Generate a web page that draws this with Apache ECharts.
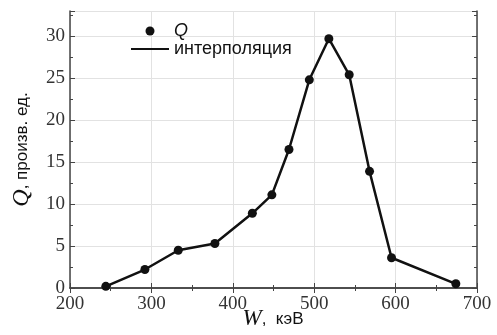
<!DOCTYPE html>
<html>
<head>
<meta charset="utf-8">
<script src="https://cdn.jsdelivr.net/npm/echarts@6/dist/echarts.min.js"></script>
<style>
  html, body {margin: 0; padding: 0; background: #fff;}
  #chart {width: 497px; height: 335px;}
</style>
</head>
<body>
<div id="chart"></div>
<script>
// energy W, keV
const energy = [244, 292, 333, 378, 424, 448, 469, 494, 518, 543, 568, 595, 674];
// Q, arb. units
const qValues = [0.2, 2.2, 4.5, 5.3, 8.9, 11.1, 16.5, 24.8, 29.7, 25.4, 13.9, 3.6, 0.5];
const xTicks = [200, 300, 400, 500, 600, 700];
const yTicks = [0, 5, 10, 15, 20, 25, 30];

const points = energy.map((w, i) => [w, qValues[i]]);

const serif = '"Liberation Serif", "DejaVu Serif", serif';
const sans = '"Liberation Sans", Arial, sans-serif';
const axisColor = '#444';

const baseX = {
    type: 'value',
    min: xTicks[0],
    max: xTicks[xTicks.length - 1],
    interval: 100,
    axisLine: {lineStyle: {color: axisColor, width: 1.5}},
    axisTick: {inside: true, length: 5, lineStyle: {color: axisColor}},
    minorTick: {show: true, splitNumber: 2, length: 3, lineStyle: {color: axisColor}},
};
const baseY = {
    type: 'value',
    min: yTicks[0],
    max: 33,
    interval: 5,
    axisLine: {show: true, lineStyle: {color: axisColor, width: 1.5}},
    axisTick: {show: true, inside: true, length: 5, lineStyle: {color: axisColor}},
    minorTick: {show: true, splitNumber: 2, length: 3, lineStyle: {color: axisColor}},
};

const chart = echarts.init(document.getElementById('chart'));
chart.setOption({
    animation: false,
    grid: {left: 70, right: 20, top: 11, bottom: 47, containLabel: false, outerBoundsMode: 'none'},
    legend: {
        orient: 'vertical',
        left: 125,
        top: 17,
        itemWidth: 38,
        itemHeight: 9,
        itemGap: 0,
        textStyle: {fontFamily: sans, fontSize: 18, color: '#111'},
        data: [
            {name: 'Q', textStyle: {fontStyle: 'italic'}},
            {name: 'интерполяция', itemStyle: {opacity: 0}}
        ]
    },
    // x axis title
    graphic: [{
        type: 'text',
        x: 273,
        y: 319,
        style: {
            text: '{w|W}{t|,  кэВ}',
            align: 'center',
            verticalAlign: 'middle',
            rich: {
                w: {fontFamily: serif, fontStyle: 'italic', fontSize: 23, fill: '#111'},
                t: {fontFamily: sans, fontSize: 17, fill: '#111'}
            }
        }
    }],
    xAxis: [
        Object.assign({}, baseX, {
            position: 'bottom',
            axisLabel: {fontFamily: serif, fontSize: 19, color: '#333', margin: 7},
            splitLine: {show: true, lineStyle: {color: '#e2e2e2', width: 1}}
        }),
        Object.assign({}, baseX, {
            position: 'top',
            axisLabel: {show: false},
            splitLine: {show: false}
        })
    ],
    yAxis: [
        Object.assign({}, baseY, {
            position: 'left',
            name: '{q|Q}{t|, произв. ед.}',
            nameLocation: 'middle',
            nameRotate: 90,
            nameGap: 36,
            nameTextStyle: {
                rich: {
                    q: {fontFamily: serif, fontStyle: 'italic', fontSize: 24, color: '#111'},
                    t: {fontFamily: sans, fontSize: 17, color: '#111'}
                }
            },
            axisLabel: {
                fontFamily: serif, fontSize: 19, color: '#333', margin: 5,
                formatter: v => (v % 5 === 0 ? String(v) : '')
            },
            splitLine: {show: true, lineStyle: {color: '#e2e2e2', width: 1}}
        }),
        Object.assign({}, baseY, {
            position: 'right',
            axisLabel: {show: false},
            splitLine: {show: false}
        })
    ],
    series: [
        {
            name: 'интерполяция',
            type: 'line',
            data: points,
            symbol: 'none',
            itemStyle: {color: '#111'},
            lineStyle: {color: '#111', width: 2.5},
            z: 2
        },
        {
            name: 'Q',
            type: 'scatter',
            data: points,
            symbol: 'circle',
            symbolSize: 9,
            itemStyle: {color: '#111', opacity: 1},
            z: 3
        }
    ]
});
</script>
</body>
</html>
